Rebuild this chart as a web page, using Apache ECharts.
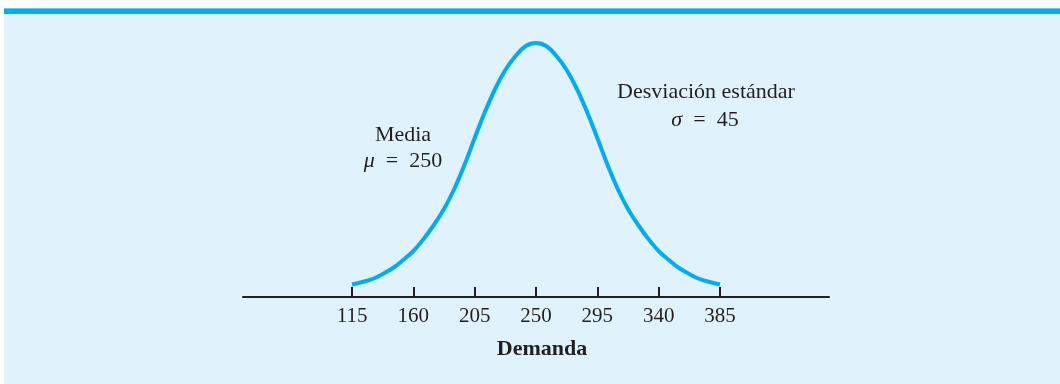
<!DOCTYPE html>
<html>
<head>
<meta charset="utf-8">
<script src="https://cdn.jsdelivr.net/npm/echarts@6/dist/echarts.min.js"></script>
<style>
html,body{margin:0;padding:0;background:#ffffff;}
#c{width:1060px;height:384px;}
</style>
</head>
<body>
<div id="c"></div>
<script>
// Demand values (x) at which the curve was read
const demanda = [115,122.5,130,137.5,145,152.5,160,167.5,175,182.5,190,197.5,205,212.5,220,227.5,235,242.5,
                 250,257.5,265,272.5,280,287.5,295,302.5,310,317.5,325,332.5,340,347.5,355,362.5,370,377.5,385];
// Curve height (pixels above the axis line)
const altura = [12.5,15,18,23,29,37,46,58,72,88,108,132,159,185,208,227,241,251,
                254,251,241,227,208,185,159,132,108,88,72,58,46,37,29,23,18,15,12.5];
// Tick labels
const ticks = [115,160,205,250,295,340,385];

const FONT = '"Liberation Serif", "DejaVu Serif", serif';
const INK = '#231f20';
const BLUE = '#00aeef';

const chart = echarts.init(document.getElementById('c'));
chart.setOption({
  animation: false,
  backgroundColor: '#ffffff',
  graphic: [
    { type: 'rect', z: -10, shape: { x: 4, y: 14, width: 1056, height: 370 }, style: { fill: '#e0f2fb' } },
    { type: 'rect', z: -9, shape: { x: 4, y: 8, width: 1056, height: 6 }, style: { fill: BLUE } },
    { type: 'rect', z: -8, shape: { x: 4, y: 8, width: 1056, height: 1 }, style: { fill: '#5fcaf2' } },
    { type: 'text', x: 403, y: 135, style: { text: 'Media', font: '22px ' + FONT, fill: INK, align: 'center', verticalAlign: 'middle' } },
    { type: 'text', x: 403, y: 161, style: {
        text: '{i|μ}\u2002=\u2002250', font: '22px ' + FONT, fill: INK, align: 'center', verticalAlign: 'middle',
        rich: { i: { fontStyle: 'italic', fontFamily: FONT, fontSize: 22, fill: INK } } } },
    { type: 'text', x: 706, y: 92, style: { text: 'Desviación estándar', font: '22px ' + FONT, fill: INK, align: 'center', verticalAlign: 'middle' } },
    { type: 'text', x: 705, y: 120, style: {
        text: '{i|σ}\u2002=\u200245', font: '22px ' + FONT, fill: INK, align: 'center', verticalAlign: 'middle',
        rich: { i: { fontStyle: 'italic', fontFamily: FONT, fontSize: 22, fill: INK } } } },
    { type: 'text', x: 542, y: 349, style: { text: 'Demanda', font: 'bold 22px ' + FONT, fill: INK, align: 'center', verticalAlign: 'middle' } }
  ],
  grid: { left: 243, right: 231, top: 37, bottom: 87 },
  xAxis: {
    type: 'value', min: 35, max: 465,
    splitLine: { show: false },
    axisLine: { lineStyle: { color: INK, width: 2 } },
    axisTick: { show: true, inside: true, length: 10, customValues: ticks, lineStyle: { color: INK, width: 2 } },
    axisLabel: { customValues: ticks, margin: 9, fontFamily: FONT, fontSize: 21, color: INK }
  },
  yAxis: { type: 'value', min: 0, max: 260, show: false, splitLine: { show: false } },
  series: [{
    type: 'line',
    data: demanda.map((d, i) => [d, altura[i]]),
    smooth: 0.4,
    showSymbol: false,
    symbol: 'none',
    lineStyle: { color: BLUE, width: 4, cap: 'butt' },
    silent: true
  }]
});
</script>
</body>
</html>
